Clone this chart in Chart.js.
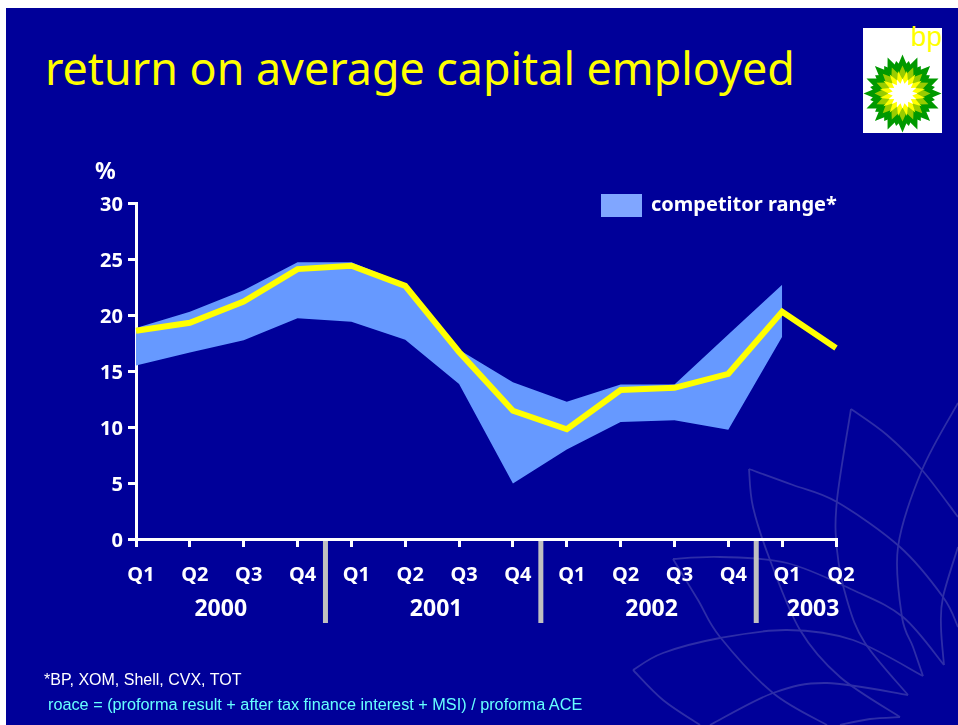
<!DOCTYPE html>
<html>
<head>
<meta charset="utf-8">
<title>return on average capital employed</title>
<script src="https://cdn.jsdelivr.net/npm/chart.js@4"></script>
<style>
    html, body { margin: 0; padding: 0; background: #fff; }
    #slide { position: absolute; left: 6px; top: 8px; width: 952px; height: 717px; background: #000099; overflow: hidden; }
    #petals { position: absolute; left: -6px; top: -8px; }
    #stage { position: absolute; left: 0; top: 0; width: 958px; height: 725px; }
    .txt { position: absolute; white-space: nowrap; font-family: "Noto Sans", sans-serif; }
    #heading { left: 45px; top: 38px; font-size: 44.8px; color: #ffff00; line-height: 60px; }
    #unit { left: 95px; top: 154px; font-size: 23px; font-weight: bold; color: #fff; }
    #swatch { position: absolute; left: 601px; top: 194px; width: 41px; height: 23px; background: #80a6ff; }
    #rangeLabel { left: 651px; top: 190px; font-size: 20px; font-weight: bold; color: #fff; }
    #note1 { left: 44px; top: 671px; font-size: 16px; color: #fff; font-family: "Liberation Sans", sans-serif; }
    #note2 { left: 48px; top: 695px; font-size: 16.25px; color: #66ffff; font-family: "Liberation Sans", sans-serif; }
    #logo { position: absolute; left: 863px; top: 28px; width: 79px; height: 105px; background: #fff; }
    #bp { position: absolute; right: 0; top: -7px; font-family: "Liberation Sans", sans-serif; font-size: 28px; color: #ffff00; }
</style>
</head>
<body>
<div id="slide">
    <svg id="petals" width="958" height="725" fill="none" stroke="#2d2da8" stroke-width="1.8"></svg>
</div>
<div class="txt" id="heading">return on average capital employed</div>
<div id="logo">
    <div id="bp">bp</div>
    <svg id="helios" width="79" height="105"></svg>
</div>
<div id="stage"><canvas id="roaceChart" width="958" height="725"></canvas></div>
<div class="txt" id="unit">%</div>
<div id="swatch"></div>
<div class="txt" id="rangeLabel">competitor range*</div>
<div class="txt" id="note1">*BP, XOM, Shell, CVX, TOT</div>
<div class="txt" id="note2">roace = (proforma result + after tax finance interest + MSI) / proforma ACE</div>

<script>
    const quarters = ['Q1', 'Q2', 'Q3', 'Q4', 'Q1', 'Q2', 'Q3', 'Q4', 'Q1', 'Q2', 'Q3', 'Q4', 'Q1', 'Q2'];
    const years = ['2000', '2001', '2002', '2003'];
    const quartersPerYear = [4, 4, 4, 2];
    const yTicks = [0, 5, 10, 15, 20, 25, 30];

    const bpRoace = [18.6, 19.3, 21.2, 24.1, 24.4, 22.6, 16.7, 11.45, 9.8, 13.3, 13.5, 14.75, 20.3, 17.05];
    const rangeHigh = [18.85, 20.3, 22.2, 24.7, 24.7, 22.8, 16.9, 14.0, 12.25, 13.8, 13.8, 18.25, 22.7, null];
    const rangeLow = [15.5, 16.65, 17.75, 19.7, 19.4, 17.8, 13.85, 4.95, 8.0, 10.45, 10.6, 9.75, 18.05, null];

    const FONT = '"Noto Sans", sans-serif';
    const SVG_NS = 'http://www.w3.org/2000/svg';

    // background watermark: outlines of the helios petals
    const petalLines = [
        [[851, 409], [837, 500], [837, 550], [847, 600], [865, 643], [908, 695]],
        [[851, 409], [887, 435], [922, 470], [958, 517]],
        [[749, 469], [753, 507], [770, 560], [800, 630], [840, 677], [900, 717]],
        [[749, 469], [793, 485], [837, 502], [900, 547], [943, 597], [958, 627]],
        [[673, 559], [720, 557], [787, 563], [853, 590], [903, 617], [944, 665]],
        [[673, 559], [698, 600], [720, 637], [773, 693], [827, 725]],
        [[633, 670], [663, 653], [720, 638], [787, 630], [853, 640], [923, 676]],
        [[633, 670], [663, 700], [700, 725]],
        [[710, 725], [773, 693], [827, 683], [908, 695]],
        [[958, 403], [922, 470], [898, 547], [902, 617], [913, 647], [923, 676]],
        [[958, 547], [943, 597], [941, 627], [944, 665]],
        [[840, 725], [870, 719], [900, 717]]
    ];
    const petals = document.getElementById('petals');
    petalLines.forEach(pts => {
        // Catmull-Rom through the points, written out as cubic segments
        let d = 'M' + pts[0].join(' ');
        for (let i = 0; i < pts.length - 1; i++) {
            const p0 = pts[Math.max(i - 1, 0)], p1 = pts[i], p2 = pts[i + 1], p3 = pts[Math.min(i + 2, pts.length - 1)];
            const c1 = [p1[0] + (p2[0] - p0[0]) / 6, p1[1] + (p2[1] - p0[1]) / 6];
            const c2 = [p2[0] - (p3[0] - p1[0]) / 6, p2[1] - (p3[1] - p1[1]) / 6];
            d += ' C' + c1.join(' ') + ' ' + c2.join(' ') + ' ' + p2.join(' ');
        }
        const path = document.createElementNS(SVG_NS, 'path');
        path.setAttribute('d', d);
        petals.appendChild(path);
    });

    // BP helios: stacked rings of spikes, green on the outside
    const helios = document.getElementById('helios');
    const rings = [
        { r: 39, inner: 27, turn: 0, color: '#009900' },
        { r: 33, inner: 26, turn: 1, color: '#009900' },
        { r: 28, inner: 20, turn: 0, color: '#99cc00' },
        { r: 23, inner: 14, turn: 1, color: '#ffff00' },
        { r: 15, inner: 10, turn: 0, color: '#ffffff' }
    ];
    const SPIKES = 16;
    rings.forEach(ring => {
        const pts = [];
        for (let i = 0; i < SPIKES * 2; i++) {
            const rad = i % 2 === 0 ? ring.r : ring.inner;
            const a = -Math.PI / 2 + (ring.turn + i) * Math.PI / SPIKES;
            pts.push((39.5 + rad * Math.cos(a)).toFixed(1) + ',' + (65.5 + rad * Math.sin(a)).toFixed(1));
        }
        const poly = document.createElementNS(SVG_NS, 'polygon');
        poly.setAttribute('points', pts.join(' '));
        poly.setAttribute('fill', ring.color);
        helios.appendChild(poly);
    });

    // Year captions and the grey separators under the axis
    const yearBands = {
        id: 'yearBands',
        afterDraw(chart) {
            const { ctx, scales: { x } } = chart;
            ctx.save();
            let start = 0;
            quartersPerYear.forEach((n, i) => {
                const centre = x.getPixelForValue(start + (n - 1) / 2);
                ctx.fillStyle = '#fff';
                ctx.font = 'bold 23px ' + FONT;
                ctx.textAlign = 'center';
                ctx.textBaseline = 'middle';
                ctx.fillText(years[i], centre + 4, 609);
                start += n;
                if (i < years.length - 1) {
                    ctx.fillStyle = '#c0c0c0';
                    ctx.fillRect(x.getPixelForValue(start - 0.5) - 1.5, 541, 5, 82);
                }
            });
            ctx.restore();
        }
    };

    new Chart(document.getElementById('roaceChart'), {
        data: {
            labels: quarters,
            datasets: [
                {
                    type: 'line',
                    label: 'roace',
                    data: bpRoace,
                    borderColor: '#ffff00',
                    borderWidth: 6,
                    pointRadius: 0,
                    tension: 0,
                    borderCapStyle: 'butt',
                    borderJoinStyle: 'miter',
                    fill: false,
                    order: 1
                },
                {
                    type: 'line',
                    label: 'competitor range',
                    data: rangeHigh,
                    borderWidth: 0,
                    pointRadius: 0,
                    tension: 0,
                    backgroundColor: '#6699ff',
                    fill: '+1',
                    order: 2
                },
                {
                    type: 'line',
                    label: 'competitor low',
                    data: rangeLow,
                    borderWidth: 0,
                    pointRadius: 0,
                    tension: 0,
                    fill: false,
                    order: 3
                }
            ]
        },
        options: {
            responsive: false,
            animation: false,
            layout: { padding: { left: 0, right: 122, top: 203, bottom: 0 } },
            plugins: { legend: { display: false }, tooltip: { enabled: false } },
            scales: {
                x: {
                    type: 'category',
                    offset: false,
                    afterFit: s => { s.height = 186; },
                    border: { color: '#fff', width: 3 },
                    grid: { drawOnChartArea: false, color: '#fff', lineWidth: 3, tickLength: 8 },
                    ticks: {
                        color: '#fff',
                        maxRotation: 0,
                        autoSkip: false,
                        padding: 16,
                        labelOffset: 5,
                        font: { family: FONT, size: 20, weight: 'bold' }
                    }
                },
                y: {
                    min: 0,
                    max: 30,
                    afterFit: s => { s.width = 136; },
                    afterBuildTicks: s => { s.ticks = yTicks.map(v => ({ value: v })); },
                    border: { color: '#fff', width: 3 },
                    grid: { drawOnChartArea: false, color: '#fff', lineWidth: 3, tickLength: 8 },
                    ticks: {
                        color: '#fff',
                        padding: 5,
                        labelOffset: 2,
                        font: { family: FONT, size: 20, weight: 'bold' }
                    }
                }
            }
        },
        plugins: [yearBands]
    });
</script>
</body>
</html>
